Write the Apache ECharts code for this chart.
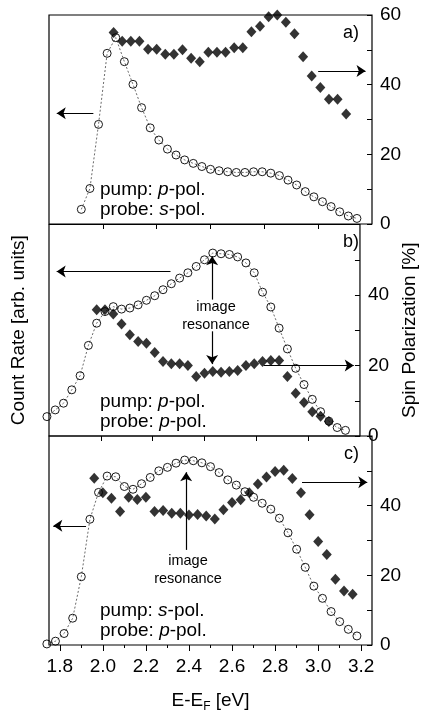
<!DOCTYPE html>
<html>
<head>
<meta charset="utf-8">
<title>Count rate and spin polarization</title>
<script src="https://cdn.jsdelivr.net/npm/echarts@6/dist/echarts.min.js"></script>
<style>
  html, body { margin: 0; padding: 0; background: #fff; }
  #chart { width: 427px; height: 714px; }
</style>
</head>
<body>
<div id="chart"></div>
<script>
// values, energies in eV, spin polarization in %
// count rate is arbitrary units, put on the same 0..60 scale as the spin axis

// a) pump: p-pol., probe: s-pol.
const aCountE = [1.90, 1.94, 1.98, 2.02, 2.06, 2.10, 2.14, 2.18, 2.22, 2.26, 2.30, 2.34, 2.38, 2.42, 2.46, 2.50, 2.54,
  2.58, 2.62, 2.66, 2.70, 2.74, 2.78, 2.82, 2.86, 2.90, 2.94, 2.98, 3.02, 3.06, 3.10, 3.14, 3.18]
const aCount = [4.2, 10.2, 28.6, 49.0, 53.5, 46.6, 40.1, 33.4, 27.6, 24.1, 21.5, 19.8, 18.4, 17.4, 16.5, 15.7, 15.3,
  15.0, 14.8, 14.8, 15.0, 15.0, 14.6, 13.9, 12.6, 11.2, 9.3, 7.8, 6.4, 5.0, 3.5, 2.3, 1.6]
const aSpinE = [2.05, 2.09, 2.13, 2.17, 2.21, 2.25, 2.29, 2.33, 2.37, 2.41, 2.45, 2.49, 2.53, 2.57, 2.61, 2.65, 2.69,
  2.73, 2.77, 2.81, 2.85, 2.89, 2.93, 2.97, 3.01, 3.05, 3.09, 3.13]
const aSpin = [55.0, 52.5, 52.5, 52.5, 50.2, 50.2, 48.7, 48.7, 50.0, 47.6, 46.6, 49.3, 49.3, 49.3, 50.6, 50.6, 55.2,
  56.8, 59.5, 60.0, 57.9, 54.6, 48.0, 42.5, 39.2, 35.8, 35.8, 31.6]

// b) pump: p-pol., probe: p-pol.
const bCountE = [1.74, 1.78, 1.82, 1.86, 1.90, 1.94, 1.98, 2.02, 2.06, 2.10, 2.14, 2.18, 2.22, 2.26, 2.30, 2.34, 2.38,
  2.42, 2.46, 2.50, 2.54, 2.58, 2.62, 2.66, 2.70, 2.74, 2.78, 2.82, 2.86, 2.90, 2.94, 2.98, 3.02, 3.06, 3.10, 3.14, 3.18]
const bCount = [5.5, 7.4, 9.3, 13.1, 17.1, 25.7, 32.0, 35.3, 36.7, 36.0, 36.3, 37.2, 38.5, 39.8, 41.5, 43.2, 44.8,
  46.3, 48.1, 50.0, 51.9, 51.7, 51.5, 50.8, 49.1, 46.3, 40.8, 36.6, 30.6, 24.7, 19.2, 14.6, 10.4, 6.9, 4.2, 2.4, 1.6]
const bSpinE = [1.98, 2.02, 2.06, 2.10, 2.14, 2.18, 2.22, 2.26, 2.30, 2.34, 2.38, 2.42, 2.46, 2.50, 2.54, 2.58, 2.62,
  2.66, 2.70, 2.74, 2.78, 2.82, 2.86, 2.90, 2.94, 2.98, 3.02, 3.06, 3.10]
const bSpin = [35.8, 35.8, 34.6, 31.8, 28.7, 26.8, 26.3, 23.7, 21.1, 20.5, 20.5, 20.0, 16.9, 17.8, 18.3, 18.1, 18.3,
  18.6, 20.0, 20.5, 21.1, 21.4, 21.4, 16.9, 12.1, 9.5, 6.9, 5.6, 4.1]

// c) pump: s-pol., probe: p-pol.
const cCountE = [1.74, 1.78, 1.82, 1.86, 1.90, 1.94, 1.98, 2.02, 2.06, 2.10, 2.14, 2.18, 2.22, 2.26, 2.30, 2.34, 2.38,
  2.42, 2.46, 2.50, 2.54, 2.58, 2.62, 2.66, 2.70, 2.74, 2.78, 2.82, 2.86, 2.90, 2.94, 2.98, 3.02, 3.06, 3.10, 3.14, 3.18]
const cCount = [0.3, 1.1, 3.3, 7.7, 19.6, 36.1, 43.8, 48.5, 48.3, 45.5, 44.7, 46.3, 48.1, 50.0, 51.0, 52.2, 53.1,
  52.9, 52.3, 51.2, 49.5, 47.4, 45.9, 44.0, 42.4, 40.7, 39.0, 36.4, 32.2, 27.5, 22.3, 16.9, 13.4, 9.6, 6.7, 4.5, 2.6]
const cSpinE = [1.96, 2.00, 2.04, 2.08, 2.12, 2.16, 2.20, 2.24, 2.28, 2.32, 2.36, 2.40, 2.44, 2.48, 2.52, 2.56, 2.60,
  2.64, 2.68, 2.72, 2.76, 2.80, 2.84, 2.88, 2.92, 2.96, 3.00, 3.04, 3.08, 3.12, 3.16]
const cSpin = [47.9, 43.7, 42.1, 38.3, 42.4, 41.8, 42.4, 38.3, 38.6, 37.8, 37.8, 37.3, 37.5, 37.0, 36.2, 38.8, 40.9,
  41.7, 43.7, 46.2, 48.2, 49.8, 50.2, 47.8, 43.7, 37.4, 29.7, 26.0, 18.9, 15.5, 14.6]

// ticks
const xMajorTicks = [1.8, 2.0, 2.2, 2.4, 2.6, 2.8, 3.0, 3.2]
const xMinorTicks = [1.9, 2.1, 2.3, 2.5, 2.7, 2.9, 3.1]
const xPanelTicks = [2.0, 2.25, 2.5, 2.75, 3.0]
const spinTicks = [0, 10, 20, 30, 40, 50, 60]

const FONT = '"Liberation Sans", Arial, sans-serif'

function pairs(xs, ys) {
  return xs.map((x, i) => [x, ys[i]])
}

// arrows are given in data coordinates: [x1, y1, x2, y2], head at the second point
const panels = [
  {
    top: 15, height: 209, label: 'a)', pump: 'p', probe: 's',
    countE: aCountE, count: aCount, spinE: aSpinE, spin: aSpin,
    spinLabels: [0, 20, 40, 60],
    arrows: [[1.956, 31.8, 1.786, 31.8], [3.0, 43.9, 3.22, 43.9]]
  },
  {
    top: 224.5, height: 211.5, label: 'b)', pump: 'p', probe: 'p',
    countE: bCountE, count: bCount, spinE: bSpinE, spin: bSpin,
    spinLabels: [0, 20, 40],
    arrows: [[2.336, 46.7, 1.787, 46.7], [2.786, 20.0, 3.22, 20.0],
      [2.537, 38.7, 2.537, 51.0], [2.537, 29.7, 2.537, 20.4]]
  },
  {
    top: 436, height: 209, label: 'c)', pump: 's', probe: 'p',
    countE: cCountE, count: cCount, spinE: cSpinE, spin: cSpin,
    spinLabels: [0, 20, 40],
    arrows: [[1.922, 34.2, 1.77, 34.2], [2.925, 46.7, 3.228, 46.7], [2.387, 27.3, 2.387, 49.6]]
  }
]

const grid = []
const xAxis = []
const yAxis = []
const series = []
const graphic = []

const polRich = {
  n: { fontSize: 19, fontFamily: FONT, fill: '#000' },
  i: { fontSize: 19, fontFamily: FONT, fontStyle: 'italic', fill: '#000' }
}

panels.forEach((p, i) => {
  grid.push({
    left: 49, right: 55, top: p.top, height: p.height,
    show: true, borderColor: '#000', borderWidth: 1.2, backgroundColor: 'transparent'
  })

  const last = i === panels.length - 1
  xAxis.push({
    gridIndex: i,
    type: 'value',
    min: 1.75,
    max: 3.25,
    position: 'bottom',
    axisLine: { show: false },
    axisTick: {
      show: true,
      inside: false,
      length: last ? 6 : 5,
      customValues: last ? xMajorTicks : xPanelTicks,
      lineStyle: { color: '#000', width: 1 }
    },
    axisLabel: last ? {
      customValues: xMajorTicks,
      formatter: v => v.toFixed(1),
      fontSize: 19,
      fontFamily: FONT,
      color: '#000',
      margin: 12
    } : { show: false },
    splitLine: { show: false },
    name: last ? '{n|E-E}{s|F}{n| [eV]}' : '',
    nameLocation: 'middle',
    nameGap: 45,
    nameTextStyle: {
      rich: {
        n: { fontSize: 19, fontFamily: FONT, color: '#000', lineHeight: 22 },
        s: { fontSize: 12, fontFamily: FONT, color: '#000', lineHeight: 12, padding: [12, 0, 0, 0] }
      }
    }
  })

  yAxis.push({
    gridIndex: i,
    type: 'value',
    min: 0,
    max: 60,
    position: 'left',
    axisLine: { show: false },
    axisTick: { show: false },
    axisLabel: { show: false },
    splitLine: { show: false },
    name: i === 1 ? 'Count Rate [arb. units]' : '',
    nameLocation: 'middle',
    nameGap: 21,
    nameTextStyle: { fontSize: 19, fontFamily: FONT, color: '#000' }
  })
  yAxis.push({
    gridIndex: i,
    type: 'value',
    min: 0,
    max: 60,
    position: 'right',
    axisLine: { show: false },
    axisTick: {
      show: true,
      inside: true,
      length: 5,
      customValues: spinTicks,
      lineStyle: { color: '#000', width: 1 }
    },
    axisLabel: {
      customValues: p.spinLabels,
      fontSize: 19,
      fontFamily: FONT,
      color: '#000',
      margin: 8
    },
    splitLine: { show: false },
    name: i === 1 ? 'Spin Polarization [%]' : '',
    nameLocation: 'middle',
    nameRotate: 90,
    nameGap: 40,
    nameTextStyle: { fontSize: 19, fontFamily: FONT, color: '#000' }
  })

  series.push({
    type: 'line',
    xAxisIndex: i,
    yAxisIndex: 2 * i,
    data: pairs(p.countE, p.count),
    symbol: 'circle',
    symbolSize: 8,
    showSymbol: true,
    clip: false,
    z: 2,
    itemStyle: { color: 'rgba(255,255,255,0)', borderColor: '#000', borderWidth: 0.9 },
    lineStyle: { color: '#444', width: 0.8, type: [2, 2] },
    markLine: {
      silent: true,
      symbol: ['none', 'arrow'],
      symbolSize: 9,
      label: { show: false },
      lineStyle: { color: '#000', width: 1.2, type: 'solid' },
      data: p.arrows.map(a => [{ coord: [a[0], a[1]] }, { coord: [a[2], a[3]] }])
    }
  })
  series.push({
    type: 'scatter',
    xAxisIndex: i,
    yAxisIndex: 2 * i + 1,
    data: pairs(p.spinE, p.spin),
    symbol: 'diamond',
    symbolSize: [10, 11],
    clip: false,
    z: 3,
    itemStyle: { color: '#000' }
  })

  // panel tag and polarization text
  graphic.push({
    type: 'text', x: 359, y: p.top + 18,
    style: { text: p.label, font: '18px ' + FONT, fill: '#000', align: 'right', verticalAlign: 'middle' }
  })
  graphic.push({
    type: 'text', x: 100, y: p.top + p.height - 34,
    style: {
      text: '{n|pump: }{i|' + p.pump + '}{n|-pol.}', rich: polRich,
      font: '19px ' + FONT, verticalAlign: 'middle'
    }
  })
  graphic.push({
    type: 'text', x: 100, y: p.top + p.height - 14,
    style: {
      text: '{n|probe: }{i|' + p.probe + '}{n|-pol.}', rich: polRich,
      font: '19px ' + FONT, verticalAlign: 'middle'
    }
  })
})

// "image resonance" labels in b) and c)
graphic.push({
  type: 'text', x: 216, y: 316,
  style: { text: 'image\nresonance', font: '14.5px ' + FONT, lineHeight: 18, fill: '#000', align: 'center', verticalAlign: 'middle' }
})
graphic.push({
  type: 'text', x: 188, y: 570,
  style: { text: 'image\nresonance', font: '14.5px ' + FONT, lineHeight: 18, fill: '#000', align: 'center', verticalAlign: 'middle' }
})

// minor ticks of the energy axis
xAxis.push({
  gridIndex: 2,
  type: 'value',
  min: 1.75,
  max: 3.25,
  position: 'bottom',
  axisLine: { show: false },
  axisTick: { show: true, inside: false, length: 3, customValues: xMinorTicks, lineStyle: { color: '#000', width: 1 } },
  axisLabel: { show: false },
  splitLine: { show: false }
})

const chart = echarts.init(document.getElementById('chart'))
chart.setOption({
  animation: false,
  backgroundColor: '#fff',
  textStyle: { fontFamily: FONT },
  grid: grid,
  xAxis: xAxis,
  yAxis: yAxis,
  series: series,
  graphic: graphic
})
</script>
</body>
</html>
